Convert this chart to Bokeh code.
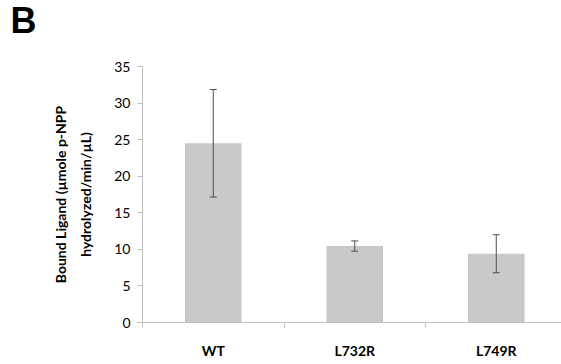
from bokeh.plotting import figure
from bokeh.layouts import column
from bokeh.models import (ColumnDataSource, Whisker, TeeHead, FixedTicker, Range1d, Label)
from bokeh.embed import file_html
from bokeh.resources import INLINE

categories = ["WT", "L732R", "L749R"]
values = [24.5, 10.45, 9.4]
errors = [7.35, 0.7, 2.6]
y_ticks = [0, 5, 10, 15, 20, 25, 30, 35]

xs = [i + 0.5 for i in range(len(categories))]
src = ColumnDataSource(dict(
    x=xs, top=values,
    upper=[v + e for v, e in zip(values, errors)],
    lower=[v - e for v, e in zip(values, errors)],
))

# header strip carrying the panel letter
head = figure(width=561, height=44, output_backend="svg", toolbar_location=None,
              x_range=Range1d(0, 561), y_range=Range1d(0, 44),
              min_border=0, x_axis_location=None, y_axis_location=None,
              frame_align=False)
head.outline_line_color = None
head.grid.grid_line_color = None
head.add_layout(Label(x=10, y=24, x_units="screen", y_units="screen", text="B",
                      text_font="Liberation Sans", text_font_style="bold",
                      text_font_size="36px", text_color="black",
                      text_baseline="alphabetic", text_align="left"))

p = figure(width=561, height=320, output_backend="svg", toolbar_location=None,
           x_range=Range1d(0, 2.961), y_range=Range1d(0, 35),
           min_border_left=142, min_border_right=0, min_border_top=22,
           min_border_bottom=42, frame_align=False)
p.outline_line_color = None
p.xgrid.grid_line_color = None
p.ygrid.grid_line_color = None
p.background_fill_color = "white"
p.border_fill_color = "white"

p.vbar(x="x", top="top", width=0.4, bottom=0, source=src,
       fill_color="#c9c9c9", line_color=None)

w = Whisker(base="x", upper="upper", lower="lower", source=src,
            line_color="#4d4d4d", line_width=1, level="overlay",
            upper_head=TeeHead(size=7, line_color="#4d4d4d", line_width=1),
            lower_head=TeeHead(size=7, line_color="#4d4d4d", line_width=1))
p.add_layout(w)

# y axis
ya = p.yaxis[0]
ya.ticker = FixedTicker(ticks=y_ticks, minor_ticks=[])
ya.axis_line_color = "#bfbfbf"
ya.major_tick_line_color = "#bfbfbf"
ya.major_tick_out = 5
ya.major_tick_in = 0
ya.minor_tick_line_color = None
ya.major_label_standoff = 7
ya.major_label_text_font = "Lato"
ya.major_label_text_font_size = "14px"
ya.major_label_text_color = "black"
ya.axis_label = "Bound Ligand (\u00b5mole p-NPP\nhydrolyzed/min/\u00b5L)"
ya.axis_label_text_font = "Lato"
ya.axis_label_text_font_style = "bold"
ya.axis_label_text_font_size = "14px"
ya.axis_label_text_line_height = 1.5
ya.axis_label_text_color = "black"
ya.axis_label_standoff = 17

# x axis
xa = p.xaxis[0]
xa.ticker = FixedTicker(ticks=xs, minor_ticks=[0, 1, 2, 3])
xa.major_label_overrides = {x: c for x, c in zip(xs, categories)}
xa.axis_line_color = "#bfbfbf"
xa.major_tick_out = 0
xa.major_tick_in = 0
xa.major_tick_line_color = None
xa.minor_tick_line_color = "#bfbfbf"
xa.minor_tick_out = 5
xa.minor_tick_in = 0
xa.major_label_standoff = 14
xa.major_label_text_font = "Lato"
xa.major_label_text_font_style = "bold"
xa.major_label_text_font_size = "14px"
xa.major_label_text_color = "black"

layout = column(head, p, spacing=0)
open("out.html", "w").write(file_html(layout, INLINE))
